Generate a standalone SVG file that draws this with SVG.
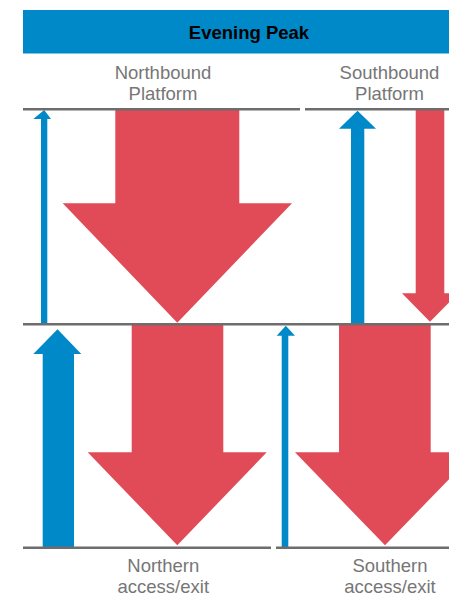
<svg xmlns="http://www.w3.org/2000/svg" width="449" height="599" viewBox="0 0 449 599">
  <style>
    .title { font-family: "Liberation Sans", Arial, sans-serif; font-weight: bold; font-size: 18.5px; fill: #000; text-anchor: middle; }
    .label { font-family: "Liberation Sans", Arial, sans-serif; font-size: 18.5px; fill: #767676; text-anchor: middle; }
    .level { stroke: #6e6c6c; stroke-width: 2.5; fill: none; }
    .up { fill: #0089c8; }
    .down { fill: #e14b57; }
  </style>
  <rect width="449" height="599" fill="#fff"/>

  <!-- header bar -->
  <g id="header">
    <rect x="23" y="10" width="426" height="43.5" fill="#0089c8"/>
    <text class="title" x="249" y="39">Evening Peak</text>
  </g>

  <!-- platform labels -->
  <g id="northbound-label">
    <text class="label" x="163" y="79">Northbound</text>
    <text class="label" x="163" y="100">Platform</text>
  </g>
  <g id="southbound-label">
    <text class="label" x="389.5" y="79">Southbound</text>
    <text class="label" x="389.5" y="100">Platform</text>
  </g>

  <!-- flows between platform and concourse -->
  <g id="flows">
    <polygon id="nb-up" class="up" points="41,324 41,119 33.3,119 44.2,110 51,119 47.3,119 47.3,324"/>
    <polygon id="nb-down" class="down" points="115.3,110 239.3,110 239.3,203.3 292,203.3 177.3,322.7 62.7,203.3 115.3,203.3"/>
    <polygon id="sb-up" class="up" points="351,324 351,128.7 339,128.7 357.5,110.7 376,128.7 364.3,128.7 364.3,324"/>
    <polygon id="sb-down" class="down" points="415.7,110 444.3,110 444.3,293.3 458,293.3 430,321.7 402,293.3 415.7,293.3"/>

    <polygon id="north-up" class="up" points="42.7,548 42.7,354 33.3,354 57.5,329.3 81.3,354 74,354 74,548"/>
    <polygon id="north-down" class="down" points="131.7,325 223.3,325 223.3,452.3 266.7,452.3 177.3,545.3 87.7,452.3 131.7,452.3"/>
    <polygon id="south-up" class="up" points="281.7,548 281.7,335.7 276.7,335.7 285.8,325.7 295,335.7 288.3,335.7 288.3,548"/>
    <polygon id="south-down" class="down" points="339,325 430.7,325 430.7,452.3 475,452.3 385,545.3 295,452.3 339,452.3"/>
  </g>

  <!-- level lines -->
  <g id="levels">
    <line class="level" x1="23" y1="109.3" x2="300" y2="109.3"/>
    <line class="level" x1="305" y1="109.3" x2="449" y2="109.3"/>
    <line class="level" x1="23" y1="324.3" x2="449" y2="324.3"/>
    <line class="level" x1="23" y1="547.7" x2="271" y2="547.7"/>
    <line class="level" x1="276" y1="547.7" x2="449" y2="547.7"/>
  </g>

  <!-- access labels -->
  <g id="northern-label">
    <text class="label" x="163.3" y="572">Northern</text>
    <text class="label" x="163.3" y="593">access/exit</text>
  </g>
  <g id="southern-label">
    <text class="label" x="390" y="572">Southern</text>
    <text class="label" x="390" y="593">access/exit</text>
  </g>
</svg>
